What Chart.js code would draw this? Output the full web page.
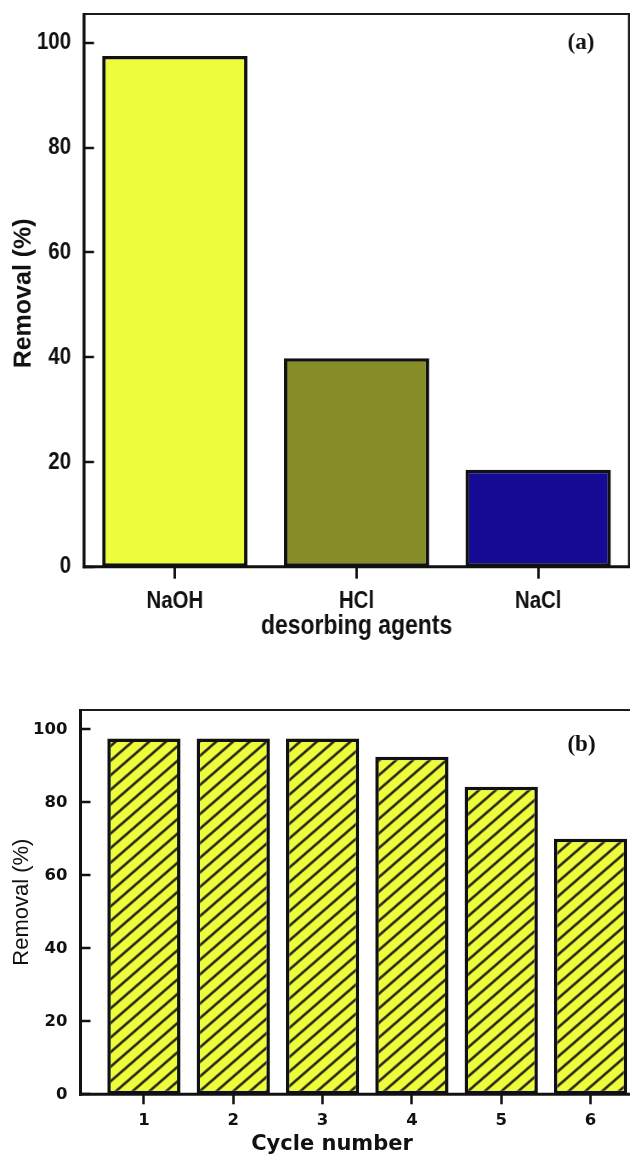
<!DOCTYPE html>
<html>
<head>
<meta charset="utf-8">
<script src="https://cdn.jsdelivr.net/npm/chart.js@4.4.0/dist/chart.umd.min.js"></script>
<style>
  html, body { margin: 0; padding: 0; background: #fff; }
  #page { position: relative; width: 630px; height: 1154px; overflow: hidden; }
  /* panel (a) uses a condensed sans face: the canvas is drawn wide and narrowed */
  #boxA { position: absolute; left: 0; top: 0; width: 741px; height: 660px; transform: scaleX(0.85); transform-origin: 0 0; }
  #boxB { position: absolute; left: 0; top: 660px; width: 660px; height: 494px; }
  canvas { display: block; }
</style>
</head>
<body>
<div id="page">
  <div id="boxA"><canvas id="chartA" width="741" height="660"></canvas></div>
  <div id="boxB"><canvas id="chartB" width="660" height="494"></canvas></div>
</div>
<script>
// (a) removal with each desorbing agent
const agents = ['NaOH', 'HCl', 'NaCl'];
const agentRemoval = [97.5, 39.8, 18.5];
const agentColors = ['#EEFD3B', '#878D26', '#150A93'];

// (b) removal over successive regeneration cycles
const cycles = [1, 2, 3, 4, 5, 6];
const cycleRemoval = [97.5, 97.5, 97.5, 92.5, 84.3, 70.0];

// shared y-axis tick values
const removalTicks = [0, 20, 40, 60, 80, 100];

const SQUASH_A = 0.85;
const SANS = "'Liberation Sans', Arial, sans-serif";
const WIDE = "'DejaVu Sans', 'Liberation Sans', sans-serif";
const SERIF = "'Liberation Serif', 'Times New Roman', serif";
const INK = '#111111';

// Text drawn at true proportions even on a horizontally narrowed canvas
function plainText(ctx, sx, text, x, y, font, rotate) {
  ctx.save();
  ctx.translate(x, y);
  ctx.scale(1 / sx, 1);
  if (rotate) ctx.rotate(-Math.PI / 2);
  ctx.font = font;
  ctx.fillStyle = INK;
  ctx.textAlign = 'center';
  ctx.textBaseline = 'middle';
  ctx.fillText(text, 0, 0);
  ctx.restore();
}

// Box frame, inward y tick marks, panel tag and free-standing axis titles
const framePlugin = {
  id: 'frame',
  afterDatasetsDraw(chart, args, o) {
    const { ctx, chartArea: a } = chart;
    const y = chart.scales.y;
    const sx = o.sx;
    const line = (x1, y1, x2, y2, w, c) => {
      ctx.strokeStyle = c;
      ctx.lineWidth = w;
      ctx.beginPath();
      ctx.moveTo(x1, y1);
      ctx.lineTo(x2, y2);
      ctx.stroke();
    };
    ctx.save();
    line(a.left, a.top, a.right + o.thin / sx / 2, a.top, o.thin, '#1c1c1c');
    line(a.right, a.top, a.right, a.bottom, o.thin / sx, '#1c1c1c');
    line(a.left, a.top - o.thin / 2, a.left, a.bottom + o.thick / 2, o.thick / sx, INK);
    line(a.left - o.thick / sx / 2, a.bottom, a.right + o.thin / sx / 2, a.bottom, o.thick, INK);
    y.ticks.forEach((t, i) => {
      const py = Math.round(y.getPixelForTick(i));
      line(a.left, py, a.left + o.tickLen / sx, py, o.tickWidth, INK);
    });
    plainText(ctx, sx, o.tag, a.left + o.tagX / sx, a.top + o.tagY, o.tagFont, false);
    if (o.yTitle) {
      plainText(ctx, sx, o.yTitle, o.yTitleX / sx, (a.top + a.bottom) / 2 + o.yTitleDY, o.yTitleFont, true);
    }
    if (o.xTitle) {
      plainText(ctx, sx, o.xTitle, a.left + o.xTitleX / sx, a.bottom + o.xTitleY, o.xTitleFont, false);
    }
    ctx.restore();
  }
};

const noEdgePadding = s => { s.paddingTop = 0; s.paddingBottom = 0; s.paddingLeft = 0; s.paddingRight = 0; };

function hatchPattern(ctx, fill, ink, period, width, angle) {
  const tile = document.createElement('canvas');
  tile.width = period;
  tile.height = period;
  const c = tile.getContext('2d');
  c.fillStyle = fill;
  c.fillRect(0, 0, period, period);
  c.fillStyle = ink;
  c.fillRect(0, (period - width) / 2, period, width);
  const p = ctx.createPattern(tile, 'repeat');
  p.setTransform(new DOMMatrix().rotateSelf(-angle));
  return p;
}

// ---------- (a) ----------
const sideA = 3.5 / SQUASH_A;
new Chart(document.getElementById('chartA'), {
  type: 'bar',
  data: {
    labels: agents,
    datasets: [{
      data: agentRemoval,
      backgroundColor: agentColors,
      borderColor: INK,
      borderWidth: { top: 3.5, bottom: 3.5, left: sideA, right: sideA },
      borderSkipped: false,
      categoryPercentage: 0.8,
      barPercentage: 1.0
    }]
  },
  options: {
    responsive: false,
    animation: false,
    layout: { padding: { top: 14, right: 1, left: 0, bottom: 0 } },
    plugins: {
      legend: { display: false },
      tooltip: { enabled: false },
      frame: {
        sx: SQUASH_A, thin: 2.2, thick: 3, tickWidth: 2.5, tickLen: 10,
        tag: '(a)', tagFont: 'bold 23px ' + SERIF, tagX: 497, tagY: 29,
        yTitle: 'Removal (%)', yTitleFont: 'bold 25px ' + SANS, yTitleX: 24, yTitleDY: 3
      }
    },
    scales: {
      x: {
        offset: true,
        afterFit: s => { s.height = 93.3; noEdgePadding(s); },
        border: { display: false },
        grid: { display: true, drawOnChartArea: false, drawTicks: true, tickLength: 12, tickWidth: 2.5 / SQUASH_A, tickColor: INK, offset: false },
        ticks: { color: INK, padding: 8, font: { family: SANS, weight: 'bold', size: 24 } },
        title: { display: true, text: 'desorbing agents', color: INK, padding: { top: 0, bottom: 17 }, font: { family: SANS, weight: 'bold', size: 27 } }
      },
      y: {
        min: 0,
        max: 105.5,
        afterBuildTicks: s => { s.ticks = removalTicks.map(v => ({ value: v })); },
        afterFit: s => { s.width = 84 / SQUASH_A; noEdgePadding(s); },
        border: { display: false },
        grid: { display: false, drawTicks: false, tickLength: 0 },
        ticks: { color: INK, padding: 13 / SQUASH_A, font: { family: SANS, weight: 'bold', size: 24 } }
      }
    }
  },
  plugins: [framePlugin]
});

// ---------- (b) ----------
const canvasB = document.getElementById('chartB');
const hatch = hatchPattern(canvasB.getContext('2d'), '#EEFD3B', '#111111', 11, 2.3, 41);

new Chart(canvasB, {
  type: 'bar',
  data: {
    datasets: [{
      data: cycles.map((c, i) => ({ x: c, y: cycleRemoval[i] })),
      backgroundColor: hatch,
      borderColor: INK,
      borderWidth: 3.5,
      borderSkipped: false,
      categoryPercentage: 1.0,
      barPercentage: 0.82
    }]
  },
  options: {
    responsive: false,
    animation: false,
    layout: { padding: { top: 50, right: 6, left: 0, bottom: 0 } },
    plugins: {
      legend: { display: false },
      tooltip: { enabled: false },
      frame: {
        sx: 1, thin: 2.2, thick: 3, tickWidth: 2.5, tickLen: 10,
        tag: '(b)', tagFont: 'bold 23px ' + SERIF, tagX: 501, tagY: 35,
        yTitle: 'Removal (%)', yTitleFont: 'normal 22px ' + SANS, yTitleX: 22, yTitleDY: 0,
        xTitle: 'Cycle number', xTitleFont: 'bold 21px ' + WIDE, xTitleX: 251.5, xTitleY: 50
      }
    },
    scales: {
      x: {
        type: 'linear',
        offset: false,
        min: 0.29,
        max: 6.71,
        afterBuildTicks: s => { s.ticks = cycles.map(v => ({ value: v })); },
        afterFit: s => { s.height = 59.7; noEdgePadding(s); },
        border: { display: false },
        grid: { display: true, offset: false, drawOnChartArea: false, drawTicks: true, tickLength: 10, tickWidth: 2.5, tickColor: INK },
        ticks: { color: INK, padding: 7, font: { family: WIDE, weight: 'bold', size: 16.5 } }
      },
      y: {
        min: 0,
        max: 105.3,
        afterBuildTicks: s => { s.ticks = removalTicks.map(v => ({ value: v })); },
        afterFit: s => { s.width = 80.5; noEdgePadding(s); },
        border: { display: false },
        grid: { display: false, drawTicks: false, tickLength: 0 },
        ticks: { color: INK, padding: 13, font: { family: WIDE, weight: 'bold', size: 16.5 } }
      }
    }
  },
  plugins: [framePlugin]
});
</script>
</body>
</html>
